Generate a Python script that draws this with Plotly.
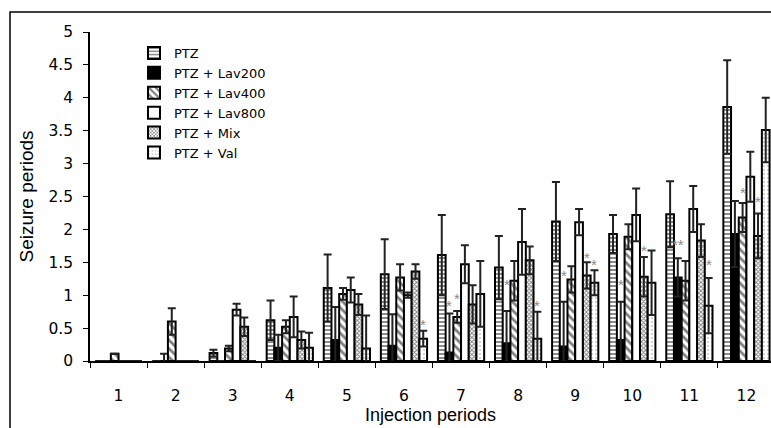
import plotly.graph_objects as go

groups = list(range(1, 13))
tick_labels = [str(g) for g in groups]
series_names = ["PTZ", "PTZ + Lav200", "PTZ + Lav400", "PTZ + Lav800", "PTZ + Mix", "PTZ + Val"]

PTZ = [0, 0, 0.12, 0.62, 1.11, 1.32, 1.61, 1.42, 2.12, 1.93, 2.23, 3.86]
PTZ_err = [0, 0, 0.05, 0.30, 0.51, 0.53, 0.61, 0.48, 0.60, 0.29, 0.50, 0.71]
Lav200 = [0, 0, 0, 0.20, 0.32, 0.23, 0.13, 0.27, 0.22, 0.32, 1.27, 1.93]
Lav200_err = [0, 0.11, 0, 0.20, 0.50, 0.48, 0.59, 0.49, 0.68, 0.58, 0.29, 0.50]
Lav400 = [0.11, 0.60, 0.19, 0.52, 1.02, 1.27, 0.67, 1.22, 1.24, 1.89, 1.22, 2.18]
Lav400_err = [0, 0.20, 0.04, 0.10, 0.09, 0.20, 0.09, 0.30, 0.20, 0.19, 0.30, 0.22]
Lav800 = [0, 0, 0.78, 0.67, 1.08, 1.00, 1.47, 1.81, 2.11, 2.22, 2.31, 2.80]
Lav800_err = [0, 0, 0.09, 0.31, 0.19, 0.04, 0.29, 0.50, 0.20, 0.40, 0.35, 0.38]
Mix = [0, 0, 0.52, 0.32, 0.86, 1.36, 0.86, 1.53, 1.30, 1.28, 1.83, 1.90]
Mix_err = [0, 0, 0.14, 0.13, 0.16, 0.11, 0.29, 0.21, 0.20, 0.30, 0.25, 0.34]
Val = [0, 0, 0, 0.20, 0.19, 0.34, 1.02, 0.34, 1.19, 1.19, 0.84, 3.51]
Val_err = [0, 0, 0, 0.23, 0.50, 0.12, 0.50, 0.41, 0.19, 0.49, 0.42, 0.49]

values = [PTZ, Lav200, Lav400, Lav800, Mix, Val]
errors = [PTZ_err, Lav200_err, Lav400_err, Lav800_err, Mix_err, Val_err]

# significance marks: (group, series index, y level, text)
stars = [(6, 5, 0.58, "*"), (7, 1, 0.87, "*"), (7, 2, 0.98, "*"), (8, 1, 1.20, "*"),
         (8, 5, 0.87, "*"), (9, 1, 1.33, "*"), (9, 4, 1.60, "*"), (9, 5, 1.49, "*"),
         (10, 1, 1.20, "*"), (10, 4, 1.71, "*"), (11, 1, 1.80, "**"), (11, 5, 1.49, "*"),
         (12, 2, 2.59, "*"), (12, 4, 2.45, "*")]

patterns = [
    dict(shape="-", fgcolor="black", bgcolor="white", size=4, solidity=0.45),
    dict(shape="", bgcolor="black"),
    dict(shape="\\", fgcolor="black", bgcolor="white", size=6, solidity=0.45),
    dict(shape="", bgcolor="white"),
    dict(shape="x", fgcolor="black", bgcolor="white", size=3, solidity=0.5),
    dict(shape=".", fgcolor="#555", bgcolor="white", size=4, solidity=0.15),
]
fills = ["white", "black", "white", "white", "white", "white"]

bargap = 0.19
tick_font = "DejaVu Sans, sans-serif"
title_font = "Liberation Sans, Arial, sans-serif"

fig = go.Figure()
for name, v, e, pat, fc in zip(series_names, values, errors, patterns, fills):
    fig.add_trace(go.Bar(
        x=groups, y=v, name=name,
        marker=dict(color=fc, pattern=pat, line=dict(color="black", width=2)),
        error_y=dict(type="data", array=e, visible=True, color="#222", thickness=2, width=4),
    ))

w = (1 - bargap) / len(series_names)
for g, s, yv, txt in stars:
    fig.add_annotation(x=g + (s - 2.5) * w, y=yv, text=txt, showarrow=False,
                       font=dict(size=15, color="#888", family=title_font),
                       yanchor="middle", yshift=-2)

# plot area = x 90..771, y 32..361 ; frame at x=10, y=12
fig.add_shape(type="rect", xref="paper", yref="paper",
              x0=(10 - 90) / 681, x1=1.2, y0=-0.5, y1=(361 - 12) / 329,
              line=dict(color="black", width=1.5))

fig.update_layout(
    width=771, height=428,
    margin=dict(l=90, r=0, t=32, b=67),
    barmode="group", bargap=bargap, bargroupgap=0,
    plot_bgcolor="white", paper_bgcolor="white",
    font=dict(family=tick_font, size=15, color="black"),
    showlegend=True,
    legend=dict(x=(134 - 90) / 681, y=(361 - 38) / 329, xanchor="left", yanchor="top",
                font=dict(size=13, family=tick_font), bgcolor="rgba(0,0,0,0)", itemwidth=30,
                traceorder="normal"),
    xaxis=dict(range=[0.5, 12.43], tickvals=groups, ticktext=tick_labels, ticks="",
               automargin=False, ticklabelstandoff=20,
               showline=True, linecolor="black", linewidth=1.5, showgrid=False, zeroline=False,
               tickfont=dict(size=15.5, family=tick_font),
               minor=dict(tickvals=[g - 0.5 for g in groups] + [12.5], ticks="outside",
                          ticklen=5, tickcolor="black", tickwidth=1),
               title=dict(text="Injection periods", font=dict(size=18, family=title_font),
                          standoff=3)),
    yaxis=dict(range=[0, 5], dtick=0.5, ticks="outside", ticklen=5, tickcolor="black",
               automargin=False, ticklabelstandoff=7,
               showline=True, linecolor="black", linewidth=1.5, showgrid=False, zeroline=False,
               tickfont=dict(size=15.5, family=tick_font),
               title=dict(text="Seizure periods", font=dict(size=19, family=title_font),
                          standoff=10)),
)

fig.write_html("out.html", config={"displayModeBar": False},
               post_script="document.body.style.margin='0';document.body.style.overflow='hidden';")
